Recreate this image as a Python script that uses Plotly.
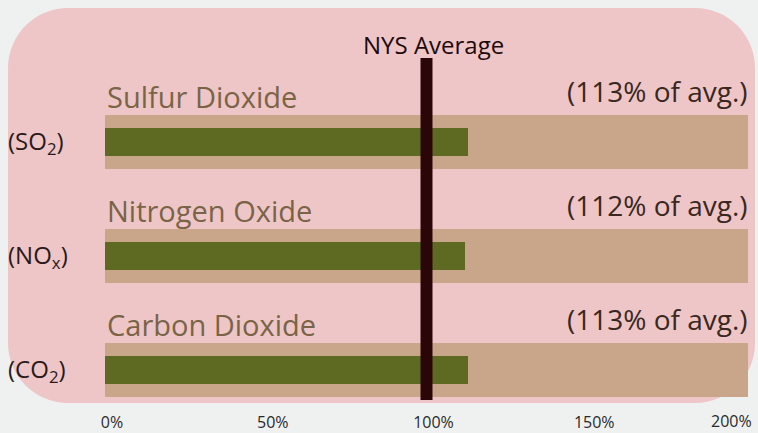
import plotly.graph_objects as go

categories = ["Sulfur Dioxide", "Nitrogen Oxide", "Carbon Dioxide"]
formulas = ["(SO<sub>2</sub>)", "(NO<sub>x</sub>)", "(CO<sub>2</sub>)"]
pct_of_avg = [113, 112, 113]
scale_max = [200, 200, 200]
pct_labels = ["(113% of avg.)", "(112% of avg.)", "(113% of avg.)"]
tick_vals = [0, 50, 100, 150]
tick_text = ["0%", "50%", "100%", "150%"]
end_tick_val = 200
end_tick_text = "200%"
avg_value = 100

W, H = 758, 433
ML, MR, MT, MB = 105, 10, 8, 30
PW, PH = W - ML - MR, H - MT - MB

def px_x(p):
    return (p - ML) / PW

def px_y(p):
    return (H - MB - p) / PH

FONT = "Open Sans"
TICKFONT = dict(family=FONT, size=16, color="#2a2a2a")

fig = go.Figure()
fig.add_trace(go.Bar(y=categories, x=scale_max, orientation="h", width=0.47,
                     marker=dict(color="#c9a689", line=dict(width=0)),
                     hoverinfo="skip", showlegend=False))
fig.add_trace(go.Bar(y=categories, x=pct_of_avg, orientation="h", width=0.24,
                     marker=dict(color="#5e6a22", line=dict(width=0)),
                     showlegend=False))

# rounded pink panel
x0, x1, y0, y1, r = 8, 755, 8, 403, 60
k = 0.5523 * r
def P(x, y):
    return f"{px_x(x):.5f},{px_y(y):.5f}"
path = (f"M {P(x0 + r, y0)} L {P(x1 - r, y0)} "
        f"C {P(x1 - r + k, y0)} {P(x1, y0 + r - k)} {P(x1, y0 + r)} "
        f"L {P(x1, y1 - r)} "
        f"C {P(x1, y1 - r + k)} {P(x1 - r + k, y1)} {P(x1 - r, y1)} "
        f"L {P(x0 + r, y1)} "
        f"C {P(x0 + r - k, y1)} {P(x0, y1 - r + k)} {P(x0, y1 - r)} "
        f"L {P(x0, y0 + r)} "
        f"C {P(x0, y0 + r - k)} {P(x0 + r - k, y0)} {P(x0 + r, y0)} Z")
fig.add_shape(type="path", path=path, xref="paper", yref="paper",
              fillcolor="#eec6c8", line=dict(width=0), layer="below")

# average line
fig.add_shape(type="line", x0=avg_value, x1=avg_value, xref="x",
              y0=px_y(400), y1=px_y(58), yref="paper",
              line=dict(color="#2a0608", width=12))
fig.add_annotation(x=avg_value, xref="x", y=px_y(44), yref="paper",
                   text="NYS Average", showarrow=False, xanchor="center", yanchor="middle",
                   xshift=7,
                   font=dict(family=FONT, size=24, color="#1e0a0a"))

for cat, form, lab in zip(categories, formulas, pct_labels):
    fig.add_annotation(x=0, xref="x", y=cat, yref="y", text=cat, showarrow=False,
                       xanchor="left", yanchor="middle", yshift=45, xshift=0,
                       font=dict(family=FONT, size=29, color="#7a6446"))
    fig.add_annotation(x=200, xref="x", y=cat, yref="y", text=lab, showarrow=False,
                       xanchor="right", yanchor="middle", yshift=51, xshift=2,
                       font=dict(family=FONT, size=28, color="#3a2820"))
    fig.add_annotation(x=px_x(6), xref="paper", y=cat, yref="y", text=form, showarrow=False,
                       xanchor="left", yanchor="middle", yshift=0,
                       font=dict(family=FONT, size=24, color="#2a1a18"))

# last tick label, right-aligned at the end of the scale
fig.add_annotation(x=end_tick_val, xref="x", y=0, yref="paper", text=end_tick_text,
                   showarrow=False, xanchor="right", yanchor="top", xshift=5, yshift=-6,
                   borderpad=0, font=TICKFONT)

fig.update_layout(
    width=W, height=H,
    margin=dict(l=ML, r=MR, t=MT, b=MB),
    paper_bgcolor="#eff1f1", plot_bgcolor="rgba(0,0,0,0)",
    barmode="overlay", bargap=0,
    xaxis=dict(range=[0, 200], tickvals=tick_vals, ticktext=tick_text,
               showgrid=False, zeroline=False, showline=False, ticks="", automargin=False,
               ticklabelshift=7, ticklabelstandoff=8, ticklabeloverflow="allow",
               tickfont=TICKFONT, fixedrange=True),
    yaxis=dict(range=[2.29, -1.175], showgrid=False, zeroline=False, showline=False,
               showticklabels=False, ticks="", fixedrange=True, automargin=False),
)
fig.write_html("out.html", config={"displayModeBar": False},
               post_script="document.body.style.margin='0px';")
